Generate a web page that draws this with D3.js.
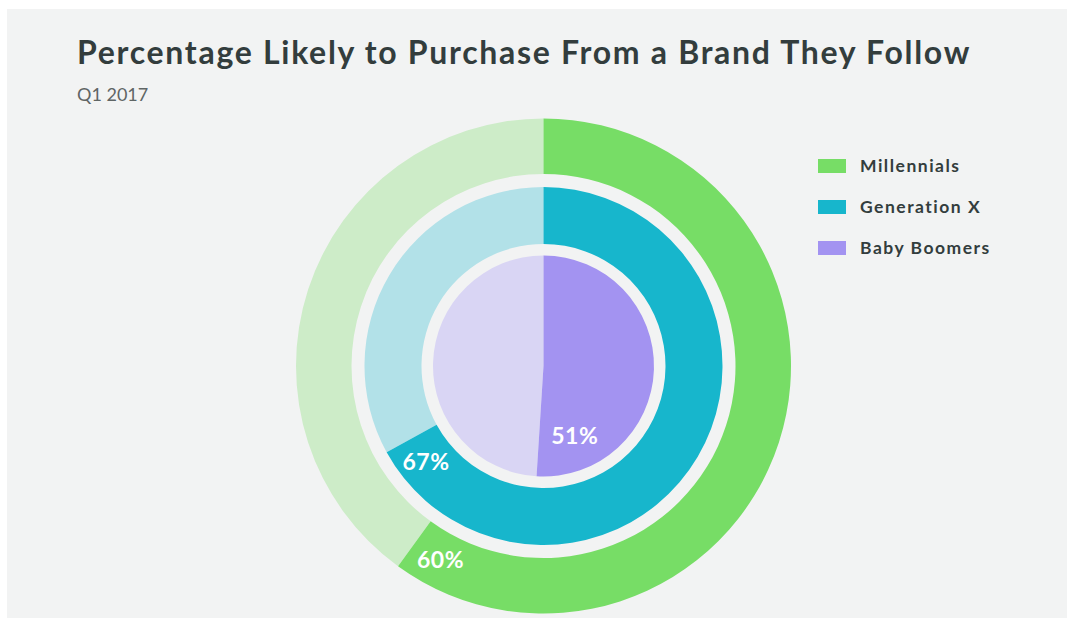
<!DOCTYPE html>
<html>
<head>
<meta charset="utf-8">
<script src="https://cdn.jsdelivr.net/npm/d3@7/dist/d3.min.js"></script>
<style>
  html, body { margin: 0; padding: 0; background: #ffffff; }
  svg { display: block; }
</style>
</head>
<body>
<svg id="chart" width="1067" height="618"></svg>
<script>
// Share of each generation likely to buy from a brand they follow (Q1 2017)
const generations = ["Millennials", "Generation X", "Baby Boomers"];
const percentages = [60, 67, 51];
const strongColors = ["#77dd66", "#17b6cc", "#a393f1"];
const paleColors = ["#cdecc8", "#b2e1e8", "#d9d5f4"];

const titleText = "Percentage Likely to Purchase From a Brand They Follow";
const subtitleText = "Q1 2017";

const W = 1067, H = 618;
const svg = d3.select("#chart");

// panel
svg.append("rect").attr("x", 7).attr("y", 9).attr("width", W - 7).attr("height", H - 9)
  .attr("fill", "#f2f3f3");

const font = "Lato, 'Open Sans', sans-serif";

svg.append("text").attr("x", 77).attr("y", 64)
  .attr("font-family", font).attr("font-weight", 700).attr("font-size", 32)
  .attr("letter-spacing", 1.7)
  .attr("fill", "#333d3d").text(titleText);

svg.append("text").attr("x", 77).attr("y", 101)
  .attr("font-family", font).attr("font-weight", 400).attr("font-size", 18)
  .attr("fill", "#5f6565").text(subtitleText);

// ring geometry: [inner, outer] radius per generation, outermost first
const cx = 543.5, cy = 366;
const rings = [[192, 247.5], [122, 179], [0, 110.5]];

const angle = d3.scaleLinear().domain([0, 100]).range([0, 2 * Math.PI]);

const g = svg.append("g").attr("transform", `translate(${cx},${cy})`);

generations.forEach((name, i) => {
  const [r0, r1] = rings[i];
  const arc = d3.arc().innerRadius(r0).outerRadius(r1);
  const pie = d3.pie().sort(null).value(d => d)([percentages[i], 100 - percentages[i]]);
  g.append("path").attr("d", arc(pie[1])).attr("fill", paleColors[i]);
  g.append("path").attr("d", arc(pie[0])).attr("fill", strongColors[i]);
});

// value labels, set just inside the end of each coloured arc
const labelRadius = [220, 152, 77];
const labelBack = [31, 28, 37]; // arc length back from the arc end, px
generations.forEach((name, i) => {
  const r = labelRadius[i];
  const a = angle(percentages[i]) - labelBack[i] / r;
  g.append("text")
    .attr("x", r * Math.sin(a)).attr("y", -r * Math.cos(a))
    .attr("dy", "0.35em").attr("text-anchor", "middle")
    .attr("font-family", font).attr("font-weight", 700).attr("font-size", 23)
    .attr("letter-spacing", 0.5)
    .attr("fill", "#ffffff").text(percentages[i] + "%");
});

// legend
const legend = svg.append("g").attr("transform", "translate(818,159)");
generations.forEach((name, i) => {
  const row = legend.append("g").attr("transform", `translate(0,${i * 41})`);
  row.append("rect").attr("width", 28).attr("height", 14).attr("fill", strongColors[i]);
  row.append("text").attr("x", 42).attr("y", 7).attr("dy", "0.36em")
    .attr("font-family", font).attr("font-weight", 700).attr("font-size", 17.5)
    .attr("letter-spacing", 1.5)
    .attr("fill", "#333d3d").text(name);
});
</script>
</body>
</html>
